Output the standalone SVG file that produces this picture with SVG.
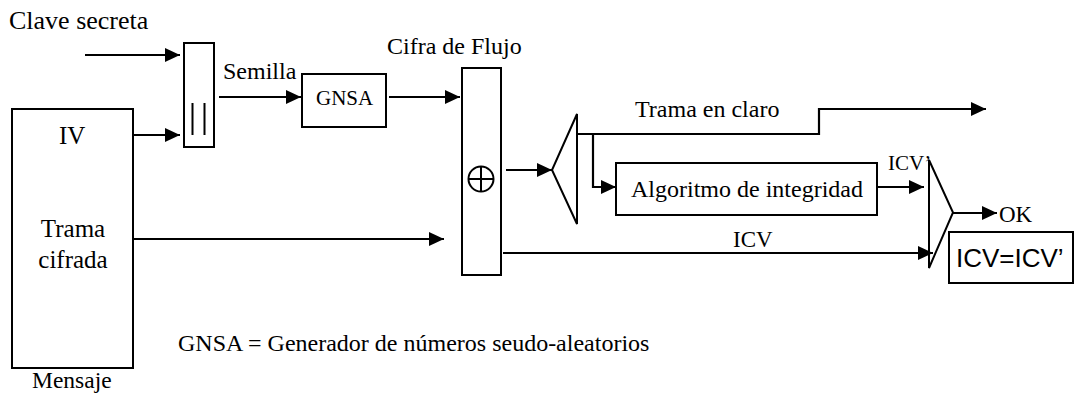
<svg xmlns="http://www.w3.org/2000/svg" width="1074" height="394" viewBox="0 0 1074 394">
<style>
.t{font-family:"Liberation Serif","Times New Roman",serif;fill:#000}
.s{font-family:"Liberation Sans",Arial,sans-serif;fill:#000}
.b{fill:#fff;stroke:#000;stroke-width:2}
.o{fill:none;stroke:#000;stroke-width:2}
.c{fill:none;stroke:#000;stroke-width:2.2}
</style>
<defs>
<marker id="ah" markerUnits="userSpaceOnUse" markerWidth="16" markerHeight="15" refX="15" refY="7" orient="auto">
<path d="M0,0 L15,7 L0,14 z" fill="#000"/>
</marker>
</defs>
<rect width="1074" height="394" fill="#fff"/>
<g id="connectors">
<path class="c" d="M85,55 H180" marker-end="url(#ah)"/>
<path class="c" d="M133,135 H180" marker-end="url(#ah)"/>
<path class="c" d="M219,97 H301" marker-end="url(#ah)"/>
<path class="c" d="M389,97 H460" marker-end="url(#ah)"/>
<path class="c" d="M133,239 H444" marker-end="url(#ah)"/>
<path class="c" d="M506,170 H552" marker-end="url(#ah)"/>
<path class="c" d="M577,134 H819 V109 H986" marker-end="url(#ah)"/>
<path class="c" d="M593,134 V187 H616" marker-end="url(#ah)"/>
<path class="c" d="M878,187 H924" marker-end="url(#ah)"/>
<path class="c" d="M503,253 H933" marker-end="url(#ah)"/>
<path class="c" d="M953,213 H997" marker-end="url(#ah)"/>
</g>
<g id="labels">
<text class="t" x="9" y="29" font-size="26">Clave secreta</text>
<text class="t" x="223" y="79" font-size="24">Semilla</text>
<text class="t" x="387" y="54" font-size="24">Cifra de Flujo</text>
<text class="t" x="635" y="117" font-size="24">Trama en claro</text>
<text class="t" x="733" y="247" font-size="23">ICV</text>
<text class="t" x="888" y="170" font-size="21">ICV’</text>
<text class="t" x="999" y="222" font-size="23">OK</text>
<text class="t" x="178" y="351" font-size="24">GNSA = Generador de números seudo-aleatorios</text>
</g>
<g id="mensaje">
<rect class="b" x="12" y="109" width="121" height="259"/>
<text class="t" x="59" y="144" font-size="25">IV</text>
<text class="t" x="73" y="237" font-size="25" text-anchor="middle">Trama</text>
<text class="t" x="73" y="268" font-size="25" text-anchor="middle">cifrada</text>
<text class="t" x="32" y="388" font-size="23.5">Mensaje</text>
</g>
<g id="concat">
<rect class="b" x="184" y="43" width="30" height="104"/>
<path class="o" d="M192.5,103 V135 M204.5,103 V135"/>
</g>
<g id="gnsa">
<rect class="b" x="302" y="74" width="84" height="53"/>
<text class="t" x="316" y="105" font-size="21">GNSA</text>
</g>
<g id="xor">
<rect class="b" x="462" y="68" width="39" height="207"/>
<circle class="o" cx="481" cy="179" r="12.5"/>
<path class="o" d="M468.5,179 H493.5 M481,166.5 V191.5"/>
</g>
<g id="splitter">
<polygon class="o" points="577,114 552,170 577,224"/>
</g>
<g id="integridad">
<rect class="b" x="616" y="163" width="261" height="52"/>
<text class="t" x="631" y="197" font-size="24">Algoritmo de integridad</text>
</g>
<g id="comparador">
<polygon class="o" points="929,160 953,212.5 929,268"/>
</g>
<g id="resultado">
<rect class="b" x="949" y="232" width="124" height="51"/>
<text class="s" x="956" y="267" font-size="26">ICV=ICV’</text>
</g>
</svg>
